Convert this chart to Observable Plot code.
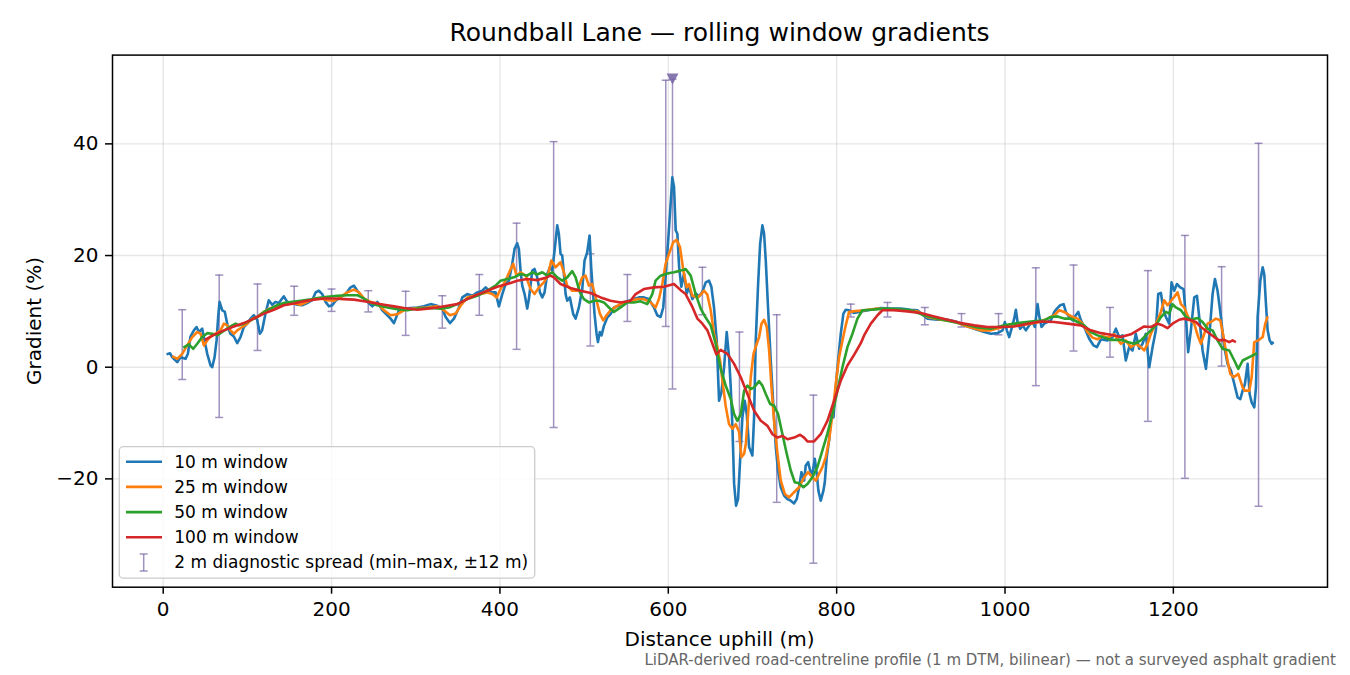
<!DOCTYPE html>
<html><head><meta charset="utf-8">
<script src="https://cdn.jsdelivr.net/npm/d3@7"></script>
<script src="https://cdn.jsdelivr.net/npm/@observablehq/plot@0.6"></script>
<style>
body{margin:0;background:#fff;}
#chart{position:relative;width:1350px;height:675px;}
</style></head><body><div id="chart"></div>
<script>
// ---- data (distance uphill in m, gradient in %) ----
const dist10 = [3.9,8.0,10.6,16.6,20.6,26.5,29.3,32.4,36.4,39.6,42.4,46.3,49.1,52.3,56.3,58.2,61.0,63.4,65.3,66.9,70.1,73.2,76.8,79.9,83.9,87.9,91.8,95.8,99.7,103.7,107.7,111.6,114.8,117.5,121.5,125.4,129.4,133.4,137.3,141.3,143.3,147.3,153.2,159.2,165.1,171.0,177.0,181.0,184.9,188.9,192.9,196.8,200.8,204.8,210.7,216.7,222.6,226.6,230.6,236.5,242.5,248.4,254.4,260.3,266.3,270.1,274.1,280,286,293.9,301.8,309.7,317.6,325.6,331.5,335.5,340.6,345.4,351.3,355.3,361.2,367.2,373.1,379,383,386.9,390.9,394.8,398.8,402.8,406.7,410.7,414.6,417.4,420.5,422.5,424.5,426.5,429.3,432.4,434.4,438.4,441.1,444.3,447.5,450.3,453.0,456.2,459.4,462.1,464.9,468.1,470.0,472.0,474.0,476.0,478.0,479.9,483.1,487.1,489.9,493.8,497.8,500.5,503.7,506.5,508.4,510.4,512.4,514.8,516.4,518.7,520.7,523.5,527.5,531.4,535.4,541.3,547.3,553.2,559.1,565.1,571.0,577.0,583.0,586.9,590.9,594.0,596.8,599.6,602.0,604.8,606.8,608.8,610.8,612.8,615.5,618.7,621.9,624.7,628.6,632.6,636.6,640.5,644.5,648.4,651.2,654.3,657.5,660.3,663.1,666.3,669.4,672.2,674.2,676.2,678.2,680.5,682.9,685.3,688.0,690.8,693.2,696.0,699.9,701.9,703.9,706.7,709.1,711.8,713.8,715.8,718.5,721.7,724.9,727.7,730.4,733.6,737.5,741.5,745.5,749.4,752.6,755.4,758.2,761.3,763.3,766.1,768.5,771.2,774.0,776.4,778.3,781.1,784.3,785.9,788.2,791.0,793.8,796.2,798.9,801.7,804.9,808.0,810.8,814.8,820.7,826.6,828.7,840.6,852.4,864.3,876.2,888.1,896.0,902.0,907.9,919.8,931.7,941.6,951.5,963.4,975.3,983.2,991.1,997.0,999.8,1002.2,1005.0,1007.8,1010.9,1012.9,1014.9,1018.1,1020.8,1024.8,1028.8,1032.7,1035.5,1038.7,1040.6,1043.4,1046.6,1050.5,1054.5,1058.5,1061.6,1065.6,1069.6,1072.3,1076.3,1080.3,1084.2,1087.0,1090.2,1094.1,1100.0,1105.2,1109.2,1113.9,1121.8,1127.7,1131.7,1135.6,1139.6,1143.5,1147.5,1151.5,1155.4,1159.4,1163.4,1167.3,1171.3,1175.3,1179.2,1182.0,1185.2,1188.3,1191.1,1195.1,1197.8,1201.0,1204.2,1208.1,1212.1,1214.9,1217.6,1220.8,1224.8,1228.0,1230.7,1234.7,1238.7,1242.6,1246.6,1249.4,1252.5,1256.5,1260.5,1264.4,1268.4,1272.4,1276.3,1279.5,1282.3,1285.0,1288.2,1290.6,1293.0,1296.1,1298.1,1300.1,1303.3,1306.1,1308.0,1310.0,1312.0,1314.4,1316.8,1319.1];
const grad10 = [2.3,2.5,1.8,0.9,1.8,1.5,2.4,5.5,6.6,7.2,6.3,6.9,4.8,2.4,0.3,0.0,1.8,4.8,9.0,11.7,10.2,9.9,7.2,6.0,5.5,4.3,5.4,7.2,7.8,8.7,9.3,8.5,6.0,6.6,9.6,12.0,11.2,11.7,11.5,12.3,12.7,11.7,11.5,11.2,11.1,11.5,12.0,13.4,13.7,13.1,11.7,10.9,11.1,11.9,12.6,13.1,14.3,14.6,13.7,12.6,11.7,10.9,11.7,10.2,9.3,8.7,7.9,10.2,10.5,10.6,10.7,10.9,11.3,11.0,10.5,9.0,7.9,8.7,10.7,12.5,13.1,12.8,13.4,13.7,14.3,13.7,13.4,13.4,10.9,13.1,14.9,15.5,18.5,21.2,22.2,21.2,17.3,14.6,13.1,10.5,12.2,17.3,17.6,16.1,13.4,12.5,13.4,16.7,17.9,17.3,20.9,25.4,23.9,20.3,20.0,16.7,13.1,11.9,12.5,9.5,8.7,10.7,14.0,19.1,20.6,23.6,17.9,13.7,9.5,6.0,4.5,6.3,5.7,7.4,8.9,9.5,10.7,11.0,11.6,11.9,12.2,12.5,12.5,12.2,10.7,9.3,9.0,10.7,16.1,22.1,27.5,34.0,32.3,24.5,23.9,18.0,14.4,16.8,13.2,14.4,12.2,13.2,12.7,13.5,15.2,15.5,14.4,10.7,4.8,-6.0,-4.5,0.0,6.3,1.8,-3.6,-10.7,-20.9,-24.8,-23.6,-16.7,-9.0,-6.0,-8.4,-14.3,-15.8,-9.0,4.8,14.9,22.1,25.4,23.9,19.1,10.7,1.2,-7.2,-14.3,-18.5,-21.5,-23.0,-23.6,-23.9,-24.4,-23.6,-21.5,-18.8,-20.3,-17.6,-17.0,-18.5,-19.1,-16.4,-19.1,-22.1,-23.9,-22.1,-20.6,-16.1,-13.1,-8.4,-9.0,-3.6,1.2,6.0,9.6,10.3,10.2,9.7,9.9,10.0,10.3,10.6,10.5,10.5,10.3,10.2,9.4,8.7,8.5,8.5,8.2,7.5,6.9,6.3,6.0,6.1,6.6,8.1,6.6,5.4,6.9,8.7,10.3,8.1,6.9,7.5,6.6,7.5,8.1,7.2,11.3,9.2,7.2,7.8,8.1,8.4,9.9,10.5,11.1,11.3,9.9,9.0,8.4,9.3,9.9,8.4,7.2,5.1,3.9,3.6,5.0,4.8,5.4,6.9,5.4,5.7,1.2,3.6,3.0,6.0,3.3,4.2,6.0,0.0,3.6,6.6,13.1,13.3,10.2,9.0,7.8,15.2,13.7,14.9,14.3,14.0,9.0,2.7,6.6,12.5,12.8,9.0,3.0,-0.3,5.4,13.1,15.8,13.7,9.0,3.6,0.6,-0.6,-3.0,-5.4,-5.7,-4.2,-3.0,0.6,-4.8,-6.3,-7.2,-3.6,9.0,15.5,17.9,16.6,11.3,6.6,4.8,4.2,4.5];

const dist25 = [10.6,16.6,22.6,28.5,34.5,40.4,44.4,48.3,52.3,56.3,62.2,68.1,72.1,76.1,80.0,84.0,88.0,93.9,99.9,105.8,111.7,117.7,123.6,131.5,139.5,147.4,155.3,163.2,171.2,179.1,187.0,194.9,202.8,210.8,218.7,226.6,232.5,238.5,246.4,254.3,262.3,270.2,278.1,286.0,294.0,301.8,313.7,325.6,333.5,340.6,347.4,353.3,361.2,369.2,377.1,385.0,390.9,396.1,400.8,406.7,411.9,415.8,419.8,424.5,430.5,436.4,441.1,446.3,452.2,457.0,461.0,466.1,472.0,476.0,479.9,485.9,491.8,497.8,501.7,505.7,509.6,514.8,518.7,522.7,526.7,531.4,539.3,547.3,555.2,563.1,571.0,579.0,584.9,588.9,592.9,596.8,600.8,606.0,609.9,613.9,617.9,621.9,624.6,628.5,634.5,638.5,642.4,646.4,650.4,654.3,658.3,661.5,664.3,668.2,672.2,676.2,680.2,684.1,686.9,690.1,692.1,694.8,698.0,701.2,705.1,707.9,710.7,713.8,717.0,719.8,722.6,725.7,729.7,733.6,738.4,743.5,749.4,755.4,761.3,766.1,771.2,775.2,779.1,783.1,787.1,791.0,795.0,799.0,802.9,806.9,810.8,814.8,818.8,832.6,848.5,864.3,880.2,896.0,907.9,923.7,939.6,955.4,971.3,983.2,995.1,1007.0,1018.9,1030.7,1040.6,1050.5,1058.5,1064.4,1070.3,1076.3,1080.3,1086.2,1092.1,1098.1,1104.0,1109.9,1115.9,1121.8,1129.7,1137.6,1143.5,1149.5,1155.4,1161.4,1165.3,1169.3,1173.3,1177.2,1181.2,1185.2,1189.1,1193.1,1197.8,1201.0,1205.0,1209.0,1212.9,1217.6,1220.8,1224.8,1229.5,1232.7,1236.7,1240.6,1244.6,1250.5,1255.7,1259.6,1263.6,1267.6,1271.6,1277.1,1282.3,1285.0,1290.2,1293.0,1296.1,1300.9,1306.1,1309.2,1312.0];
const grad25 = [2.0,1.5,2.4,3.9,5.4,6.3,6.0,3.9,4.8,5.5,6.0,6.6,7.8,7.5,6.6,6.0,6.6,7.2,7.8,8.7,9.0,9.7,10.3,10.8,11.1,11.5,11.4,11.2,11.7,12.3,12.3,12.0,11.9,12.6,13.4,13.9,13.4,12.3,11.7,11.4,10.2,9.3,9.5,10.2,10.4,10.6,10.7,10.9,10.2,9.3,9.6,11.0,12.5,12.8,13.1,13.4,13.1,12.5,14.0,15.5,17.3,18.5,16.4,17.0,16.4,14.0,13.1,14.3,15.2,16.4,19.1,17.9,18.8,17.0,14.6,13.7,13.7,16.1,16.4,14.6,14.9,11.9,9.6,8.4,9.3,10.2,11.0,11.6,11.8,12.2,12.2,11.6,10.7,12.2,14.9,18.5,20.3,22.4,22.8,21.5,17.3,14.3,14.9,12.8,12.5,13.0,13.7,13.0,10.2,6.0,3.6,1.2,-2.4,-7.0,-10.2,-11.0,-10.2,-11.6,-16.1,-15.5,-13.7,-8.4,-1.8,2.4,4.2,5.4,7.8,8.5,7.2,3.0,-3.6,-9.6,-15.5,-20.3,-22.7,-23.3,-22.4,-21.5,-19.7,-18.8,-19.7,-20.3,-19.1,-17.9,-16.1,-13.1,-8.4,-3.0,1.8,4.8,7.5,9.9,10.0,10.2,10.5,10.3,10.2,10.0,9.0,8.5,8.2,7.3,6.6,6.6,7.1,7.7,7.5,7.8,8.1,8.7,9.3,10.2,9.9,9.3,9.0,8.7,7.8,6.3,5.3,5.0,5.6,5.3,5.9,4.2,4.8,3.6,4.2,3.6,3.0,4.2,6.0,7.2,8.4,9.9,12.0,11.1,12.0,12.6,13.4,11.3,10.7,9.0,8.4,7.8,5.4,4.2,6.0,7.8,8.1,8.7,8.4,5.4,1.8,-1.2,-1.8,-1.2,-3.6,-4.2,-4.2,-1.8,4.5,4.8,5.4,7.8,9.1];

const dist50 = [23.8,30.5,35.7,40.4,46.3,52.3,58.2,64.2,70.1,76.1,82.0,86.0,89.9,95.8,103.7,111.7,119.6,127.5,135.4,143.3,153.2,163.2,173.1,183.0,194.9,206.8,218.7,230.6,238.5,246.4,254.3,266.3,278.1,290.0,301.8,317.6,329.5,339.4,349.3,361.2,373.1,385.0,394.8,400.8,408.7,416.6,424.5,432.4,438.4,444.3,450.3,456.2,462.1,468.1,474.0,479.9,485.9,489.9,495.0,499.8,505.7,511.6,517.6,523.5,529.5,535.4,543.3,551.3,559.1,567.0,575.0,581.0,584.9,590.9,598.8,606.7,614.7,620.6,626.6,632.5,638.5,644.4,650.4,656.3,662.3,668.2,674.2,678.2,682.1,686.1,690.1,694.0,698.0,702.0,707.9,711.8,715.8,721.0,725.7,730.4,735.6,740.7,745.5,750.2,755.4,760.5,765.3,771.2,777.1,783.1,789.0,795.0,800.9,806.9,812.8,818.8,824.7,830.6,840.6,856.4,872.3,888.1,903.9,919.8,935.6,951.5,967.3,983.2,999.1,1015.0,1030.8,1046.6,1054.5,1062.5,1070.4,1078.3,1086.2,1094.1,1102.0,1110.0,1117.9,1125.8,1137.6,1145.5,1153.4,1161.4,1167.3,1173.3,1179.2,1185.2,1191.1,1195.1,1199.0,1203.0,1209.0,1214.9,1220.8,1228.7,1234.7,1240.6,1246.6,1252.5,1258.5,1266.4,1272.4,1277.1,1282.3,1290.2,1299.3];
const grad50 = [3.5,4.1,3.3,4.2,5.4,6.1,6.0,5.7,6.3,6.9,7.5,7.8,7.5,7.8,8.4,9.0,9.9,10.5,11.1,11.5,11.7,11.9,12.1,12.4,12.6,12.8,12.9,12.9,12.3,11.5,11.1,10.7,10.4,10.2,10.5,10.6,10.5,10.7,11.3,12.2,12.8,13.7,14.6,15.5,15.8,16.1,16.7,16.4,17.0,16.6,17.0,16.4,17.0,16.1,15.5,16.1,17.2,16.1,13.4,12.2,11.6,11.9,11.9,11.6,10.7,9.9,10.7,11.6,11.6,11.8,11.3,13.1,15.5,16.4,16.8,17.0,17.3,17.6,16.4,13.1,10.5,8.9,7.5,4.2,-0.3,-3.3,-5.7,-8.4,-9.6,-8.4,-4.2,-3.3,-3.9,-3.6,-2.5,-3.3,-4.8,-6.6,-6.9,-8.4,-12.0,-15.5,-18.5,-20.6,-20.8,-21.5,-20.9,-19.7,-17.9,-14.9,-11.9,-8.4,-4.2,0.0,3.6,6.0,8.7,10.2,10.3,10.5,10.4,10.2,9.3,8.7,8.2,7.7,7.1,6.9,7.5,7.9,8.2,8.4,9.0,9.1,8.7,8.7,8.1,7.5,6.3,5.7,5.3,4.9,4.9,4.5,4.2,4.8,5.7,6.6,7.5,9.0,9.9,9.6,11.3,10.7,10.2,9.0,8.5,8.8,8.1,6.9,6.6,4.8,3.3,3.0,1.2,-0.3,1.2,1.8,2.5];

const dist100 = [49.5,60.2,72.1,84.0,95.8,107.7,119.6,131.5,143.3,155.3,167.2,179.1,191.0,202.8,214.7,226.6,238.5,250.4,262.3,274.2,286.0,301.8,313.7,325.6,337.5,349.3,361.2,373.1,385.0,396.9,408.7,420.6,432.5,444.3,454.2,460.1,464.1,472.0,483.9,495.8,507.7,519.6,531.4,543.3,555.2,561.2,571.0,583.0,594.9,606.7,614.7,620.6,628.6,634.6,640.5,646.5,652.4,657.0,662.3,670.2,678.2,686.1,694.0,702.0,709.9,717.8,723.8,729.7,735.6,741.6,749.5,756.6,761.3,765.3,773.2,781.1,789.0,797.0,804.9,812.8,820.7,828.7,832.6,840.6,848.5,854.4,868.3,884.1,900.0,915.8,931.7,947.5,963.4,979.2,995.1,1010.9,1026.8,1042.6,1058.5,1074.3,1090.2,1102.0,1113.9,1125.8,1137.6,1149.5,1157.4,1165.3,1173.3,1181.2,1187.1,1193.1,1199.0,1206.9,1212.9,1220.8,1226.8,1232.7,1240.6,1248.5,1254.5,1260.4,1266.4,1270.4,1274.3];
const grad100 = [4.9,5.8,6.6,7.3,7.9,8.7,9.6,10.3,11.1,11.4,11.8,12.1,12.3,12.3,12.2,12.1,11.8,11.5,11.2,10.9,10.6,10.3,10.5,10.7,11.0,11.3,12.2,13.0,13.7,14.4,14.9,15.5,15.8,15.6,16.0,16.4,16.1,14.9,14.2,13.7,13.3,12.5,11.9,11.6,11.9,13.1,14.0,14.3,14.4,14.9,13.8,13.1,10.8,8.7,7.8,6.6,4.2,2.3,3.1,2.4,0.6,-1.8,-4.8,-7.8,-9.6,-10.5,-12.0,-12.6,-12.3,-12.9,-12.6,-12.1,-12.6,-13.3,-13.3,-12.0,-9.6,-6.0,-2.4,0.3,2.2,4.3,5.7,7.8,9.3,10.2,10.2,10.0,9.7,9.1,8.5,7.9,7.5,7.2,7.2,7.3,7.8,8.2,8.1,7.8,7.5,6.6,6.1,5.8,5.4,5.9,6.6,7.3,7.2,7.8,7.5,7.0,7.8,8.5,8.7,8.4,8.1,7.2,6.3,5.4,4.8,4.9,4.5,4.8,4.5];

// 2 m diagnostic spread: position, min, max
const spreadX   = [22.6,66.5,112,155.6,200,243.6,288,331.5,375.5,419.8,463.8,507.4,551.4,597,605,640.5,684.5,728.8,772.4,816.8,860.4,904.7,948.3,992.3,1036.6,1081.4,1124.7,1169.7,1213.7,1257.3,1301.2];
const spreadMin = [-2.2,-9.0,3.0,9.3,10.0,9.9,5.7,7.0,9.3,3.2,-10.8,3.8,8.2,7.3,-3.9,9.4,-13.3,-24.2,-35.1,9.0,9.0,7.6,7.2,5.8,-3.3,2.9,1.8,-9.7,-19.9,0.2,-24.9];
const spreadMax = [10.3,16.5,14.9,14.5,14.0,13.7,13.6,12.8,16.6,25.8,40.4,20.3,16.6,51.4,51.6,17.9,6.3,9.4,-5.0,11.3,11.6,10.7,9.6,9.6,17.8,18.3,10.7,17.3,23.6,18.0,40.1];
const peakX = [605];
const peakY = [51.6];

const seriesNames  = ["10 m window","25 m window","50 m window","100 m window"];
const seriesColors = ["#1f77b4","#ff7f0e","#2ca02c","#d62728"];
const spreadLabel  = "2 m diagnostic spread (min\u2013max, \u00b112 m)";
const xTicks = [0,200,400,600,800,1000,1200];
const yTicks = [-20,0,20,40];

// ---- build ----
const seriesXY = [[dist10,grad10],[dist25,grad25],[dist50,grad50],[dist100,grad100]];
const lineData = seriesXY.map(([xs,ys],i)=>xs.map((x,j)=>({x, y:ys[j], s:seriesNames[i]})));
const spread = spreadX.map((x,i)=>({x, lo:spreadMin[i], hi:spreadMax[i]}));
const peaks = peakX.map((x,i)=>({x, y:peakY[i]}));

const SPREAD = "#7a68a6";
const SP_OP = 0.72;
const capSymbol = {draw(ctx){ctx.moveTo(-4,0);ctx.lineTo(4,0);}};
const triDown = {draw(ctx){ctx.moveTo(-6,-5.5);ctx.lineTo(6,-5.5);ctx.lineTo(0,5.5);ctx.closePath();}};
const fmt = d => d < 0 ? "\u2212" + Math.abs(d) : String(d);

const W=1350, H=675, ML=112, MR=23, MT=54.6, MB=88.3;
const plot = Plot.plot({
  width:W, height:H, marginLeft:ML, marginRight:MR, marginTop:MT, marginBottom:MB,
  style:{fontFamily:"'DejaVu Sans', sans-serif", fontSize:"20px", color:"#000", background:"#fff", overflow:"visible"},
  x:{domain:[-60.25,1383.1]},
  y:{domain:[-39.4,55.9]},
  marks:[
    Plot.gridX(xTicks,{stroke:"#b0b0b0", strokeOpacity:0.3, strokeWidth:1.4}),
    Plot.gridY(yTicks,{stroke:"#b0b0b0", strokeOpacity:0.3, strokeWidth:1.4}),
    Plot.ruleX(spread,{x:"x", y1:"lo", y2:"hi", stroke:SPREAD, strokeOpacity:SP_OP, strokeWidth:1.5}),
    Plot.dot(spread,{x:"x", y:"lo", symbol:capSymbol, fill:"none", stroke:SPREAD, strokeOpacity:SP_OP, strokeWidth:1.5}),
    Plot.dot(spread,{x:"x", y:"hi", symbol:capSymbol, fill:"none", stroke:SPREAD, strokeOpacity:SP_OP, strokeWidth:1.5}),
    ...lineData.map((data,i)=>Plot.line(data,{x:"x", y:"y", stroke:seriesColors[i], strokeWidth:2.6, strokeLinejoin:"round", strokeLinecap:"butt"})),
    Plot.dot(peaks,{x:"x", y:"y", symbol:triDown, fill:SPREAD, fillOpacity:0.9, stroke:"none"}),
    Plot.frame({stroke:"#000", strokeWidth:1.5}),
    Plot.axisX({ticks:xTicks, tickSize:7, tickPadding:8, tickFormat:fmt, label:null, strokeWidth:1.5}),
    Plot.axisY({ticks:yTicks, tickSize:7, tickPadding:7, tickFormat:fmt, label:null, strokeWidth:1.5})
  ]
});
document.getElementById("chart").appendChild(plot);

const svg = d3.select(plot);
const ff = "'DejaVu Sans', sans-serif";
// title
svg.append("text").attr("x",719.5).attr("y",41).attr("text-anchor","middle")
  .attr("font-family",ff).attr("font-size",25).attr("fill","#000")
  .text("Roundball Lane \u2014 rolling window gradients");
// axis labels
svg.append("text").attr("x",719.5).attr("y",646).attr("text-anchor","middle")
  .attr("font-family",ff).attr("font-size",20).attr("fill","#000").text("Distance uphill (m)");
svg.append("text").attr("transform","translate(41,321) rotate(-90)").attr("text-anchor","middle")
  .attr("font-family",ff).attr("font-size",20).attr("fill","#000").text("Gradient (%)");
// footer
svg.append("text").attr("x",1336).attr("y",665).attr("text-anchor","end")
  .attr("font-family",ff).attr("font-size",15).attr("fill","#666")
  .text("LiDAR-derived road-centreline profile (1 m DTM, bilinear) \u2014 not a surveyed asphalt gradient");

// legend
const lg = svg.append("g").attr("text-anchor","start");
lg.append("rect").attr("x",119.3).attr("y",446.7).attr("width",415.4).attr("height",131.5).attr("rx",4)
  .attr("fill","#fff").attr("fill-opacity",0.8).attr("stroke","#cccccc").attr("stroke-width",1.3);
const rowY = [461.7,486.9,512.1,537.3,562.5];
seriesNames.forEach((name,i)=>{
  lg.append("line").attr("x1",126).attr("x2",162).attr("y1",rowY[i]).attr("y2",rowY[i])
    .attr("stroke",seriesColors[i]).attr("stroke-width",2.6);
  lg.append("text").attr("x",174.3).attr("y",rowY[i]+5.9).attr("text-anchor","start")
    .attr("font-family",ff).attr("font-size",17).attr("fill","#000").text(name);
});
const ey = rowY[4];
const eg = lg.append("g").attr("stroke",SPREAD).attr("stroke-opacity",SP_OP).attr("stroke-width",1.5);
eg.append("line").attr("x1",143.7).attr("x2",143.7).attr("y1",ey-8.5).attr("y2",ey+8.5);
eg.append("line").attr("x1",139.7).attr("x2",147.7).attr("y1",ey-8.5).attr("y2",ey-8.5);
eg.append("line").attr("x1",139.7).attr("x2",147.7).attr("y1",ey+8.5).attr("y2",ey+8.5);
lg.append("text").attr("x",174.3).attr("y",ey+5.9).attr("text-anchor","start")
  .attr("font-family",ff).attr("font-size",17).attr("fill","#000").text(spreadLabel);
</script></body></html>
